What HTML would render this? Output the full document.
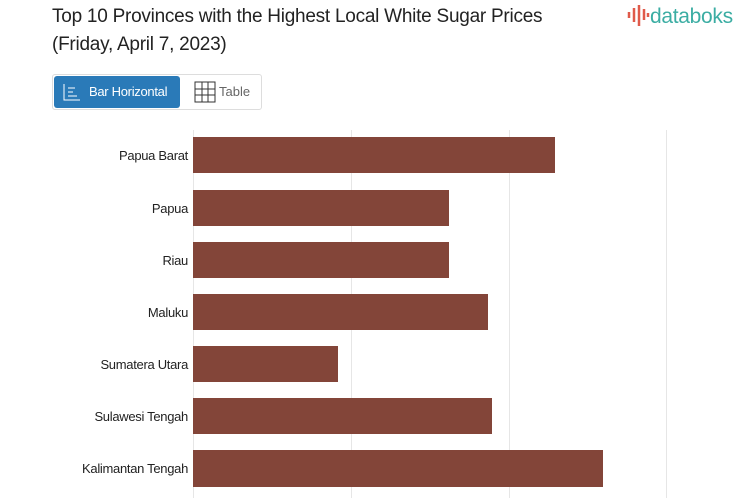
<!DOCTYPE html><html><head><style>
body{margin:0;width:753px;height:498px;overflow:hidden;background:#fff;font-family:"Liberation Sans",sans-serif;position:relative}
.t{position:absolute;left:52px;top:3px;font-size:19px;color:#222;line-height:28px;letter-spacing:-0.25px}
.logo{position:absolute;left:626px;top:3px;font-size:21px;color:#3bada3;white-space:nowrap;letter-spacing:-0.3px}
.btns{position:absolute;left:52px;top:74px;width:208px;height:34px;border:1px solid #ddd;border-radius:3px}
.b1{position:absolute;left:1px;top:1px;width:126px;height:32px;background:#2a7ab8;border-radius:3px;color:#fff;font-size:13px;line-height:32px;padding-left:35px;box-sizing:border-box;letter-spacing:-0.3px}
.b2{position:absolute;left:166px;top:1px;font-size:13px;line-height:32px;color:#666}
.g{position:absolute;top:130px;width:1px;height:368px;background:#e6e6e6}
.bar{position:absolute;left:193px;height:36px;background:#834539}
.l{position:absolute;right:565px;font-size:13px;color:#222;text-align:right;white-space:nowrap;letter-spacing:-0.3px}
</style></head><body>
<div class="t">Top 10 Provinces with the Highest Local White Sugar Prices<br>(Friday, April 7, 2023)</div>
<div class="logo"><svg width="24" height="24" style="vertical-align:-4px"><path d="M3 9V15M8 5V19M13 2V23M18 6V17M22 10V14" stroke="#e05a4a" stroke-width="2.5"/></svg>databoks</div>
<div class="btns"><div class="b1">Bar Horizontal</div>
<svg style="position:absolute;left:10px;top:8px" width="18" height="18"><path d="M1 1V17H17M5 5H12M5 9H10M5 13H14" stroke="#fff" fill="none"/></svg>
<svg style="position:absolute;left:141px;top:6px" width="22" height="22"><path d="M1 1H21V21H1ZM1 8H21M1 14H21M8 1V21M14 1V21" stroke="#333" fill="none"/></svg>
<div class="b2">Table</div></div>
<div class="g" style="left:193px"></div><div class="g" style="left:351px"></div><div class="g" style="left:509px"></div><div class="g" style="left:666px"></div>
<div class="bar" style="top:137px;width:362px"></div><div class="l" style="top:148px">Papua Barat</div>
<div class="bar" style="top:190px;width:256px"></div><div class="l" style="top:201px">Papua</div>
<div class="bar" style="top:242px;width:256px"></div><div class="l" style="top:253px">Riau</div>
<div class="bar" style="top:294px;width:295px"></div><div class="l" style="top:305px">Maluku</div>
<div class="bar" style="top:346px;width:145px"></div><div class="l" style="top:357px">Sumatera Utara</div>
<div class="bar" style="top:398px;width:299px"></div><div class="l" style="top:409px">Sulawesi Tengah</div>
<div class="bar" style="top:450px;width:410px;height:37px"></div><div class="l" style="top:461px">Kalimantan Tengah</div>
</body></html>
